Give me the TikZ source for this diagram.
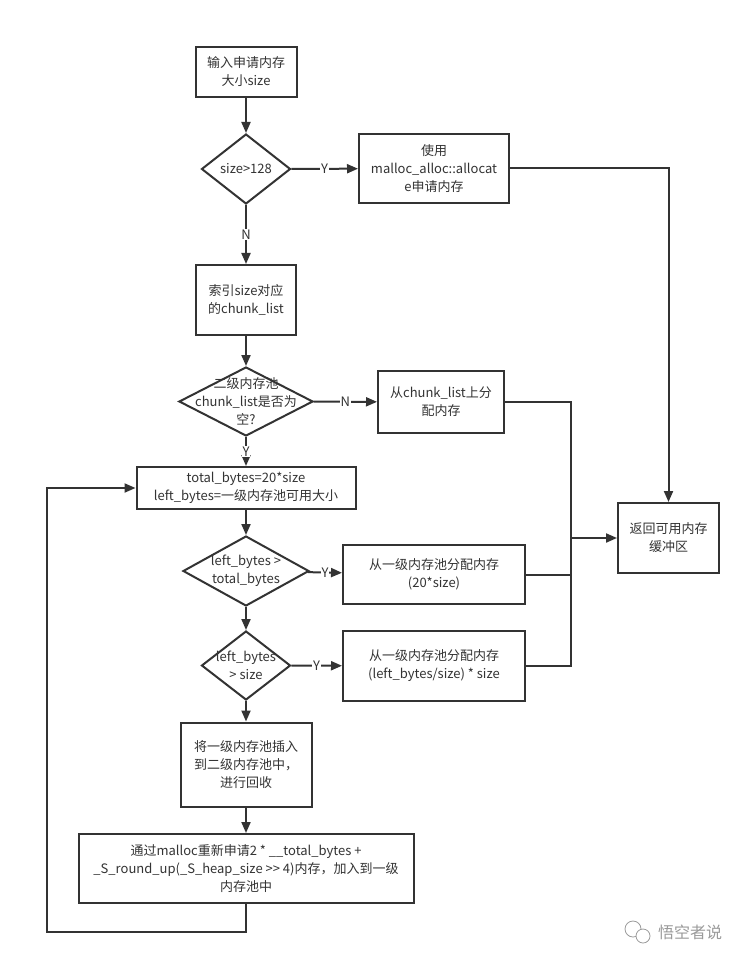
\documentclass[tikz,border=0pt]{standalone}
\usepackage{fontspec}
\setmainfont{Noto Sans CJK SC}
\usepackage{xcolor}
\usepackage{tikz}
\usetikzlibrary{arrows.meta, shapes.geometric}
\definecolor{ln}{HTML}{333333}
\definecolor{wmgray}{HTML}{9A9A9A}
\tikzset{
    box/.style={draw=ln, line width=2pt, rectangle, inner sep=0pt, align=center, text=ln},
    dia/.style={draw=ln, line width=2pt, diamond, inner sep=0pt, aspect=1},
    txt/.style={align=center, text=ln, inner sep=0pt},
    yn/.style={midway, fill=white, inner sep=1pt, text=ln},
    line/.style={draw=ln, line width=2pt},
    >={Triangle[length=11pt, width=9pt]}
}

\begin{document}
\begin{tikzpicture}[x=1pt, y=-1pt, font=\fontsize{13}{18}\selectfont]
    \useasboundingbox[fill=white] (0,0) rectangle (751,965);

    % 主流程
    \node[box, minimum width=101pt, minimum height=50pt] (b1) at (246,72) {输入申请内存\\大小size};
    \node[dia, minimum width=89pt, minimum height=70pt] (q1) at (246,169) {};
    \node[txt] (q1t) at (q1) {size>128};
    \node[box, minimum width=150pt, minimum height=69pt] (a1) at (434,168.5) {使用\\malloc\_alloc::allocat\\e申请内存};
    \node[box, minimum width=100pt, minimum height=70pt] (b2) at (246,300) {索引size对应\\的chunk\_list};
    \node[dia, minimum width=134pt, minimum height=69pt] (q2) at (246,401.5) {};
    \node[txt] (q2t) at (q2) {二级内存池\\chunk\_list是否为\\空?};
    \node[box, minimum width=126pt, minimum height=62pt] (a2) at (441,402) {从chunk\_list上分\\配内存};
    \node[box, minimum width=219pt, minimum height=42pt] (b3) at (246,488) {total\_bytes=20*size\\left\_bytes=一级内存池可用大小};
    \node[box, minimum width=101pt, minimum height=70pt] (ret) at (668.5,538) {返回可用内存\\缓冲区};
    \node[dia, minimum width=126pt, minimum height=70pt] (q3) at (246,571) {};
    \node[txt] (q3t) at (q3) {left\_bytes >\\total\_bytes};
    \node[box, minimum width=182pt, minimum height=59pt] (a3) at (434,574.5) {从一级内存池分配内存\\(20*size)};
    \node[dia, minimum width=89pt, minimum height=69pt] (q4) at (246,665.5) {};
    \node[txt] (q4t) at (q4) {left\_bytes\\> size};
    \node[box, minimum width=182pt, minimum height=70pt] (a4) at (434,666) {从一级内存池分配内存\\(left\_bytes/size) * size};
    \node[box, minimum width=131pt, minimum height=84pt] (b4) at (246,764.5) {将一级内存池插入\\到二级内存池中，\\进行回收};
    \node[box, minimum width=335pt, minimum height=69pt] (b5) at (246,868.5) {通过malloc重新申请2 * \_\_total\_bytes +\\\_S\_round\_up(\_S\_heap\_size >{}> 4)内存，加入到一级\\内存池中};

    \coordinate (jn) at (571,538);
    \coordinate (lp) at (47,932);

    % 连线
    \draw[line, ->] (b1) -- (q1);
    \draw[line, ->] (q1) -- node[yn] {Y} (a1);
    \draw[line, ->] (a1.east) -| (ret.north);
    \draw[line, ->] (q1) -- node[yn] {N} (b2);
    \draw[line, ->] (b2) -- (q2);
    \draw[line, ->] (q2) -- node[yn] {N} (a2);
    \draw[line] (a2.east) -| (jn);
    \draw[line, ->] (jn) -- (ret.west);
    \draw[line, ->] (q2) -- node[yn] {Y} (b3);
    \draw[line, ->] (b3) -- (q3);
    \draw[line, ->] (q3) -- node[yn] {Y} (a3);
    \draw[line] (a3.east) -| (jn);
    \draw[line, ->] (q3) -- (q4);
    \draw[line, ->] (q4) -- node[yn] {Y} (a4);
    \draw[line] (a4.east) -| (jn);
    \draw[line, ->] (q4) -- (b4);
    \draw[line, ->] (b4) -- (b5);
    \draw[line, ->] (b5.south) |- (lp) |- (b3.west);

    % 水印
    \draw[wmgray, line width=0.8pt] (633,929) circle (8pt);
    \draw[wmgray, line width=0.8pt, fill=white] (643,936) circle (7pt);
    \node[text=wmgray, font=\fontsize{16}{18}\selectfont, inner sep=0pt] (wm) at (690,932) {悟空者说};
\end{tikzpicture}
\end{document}
